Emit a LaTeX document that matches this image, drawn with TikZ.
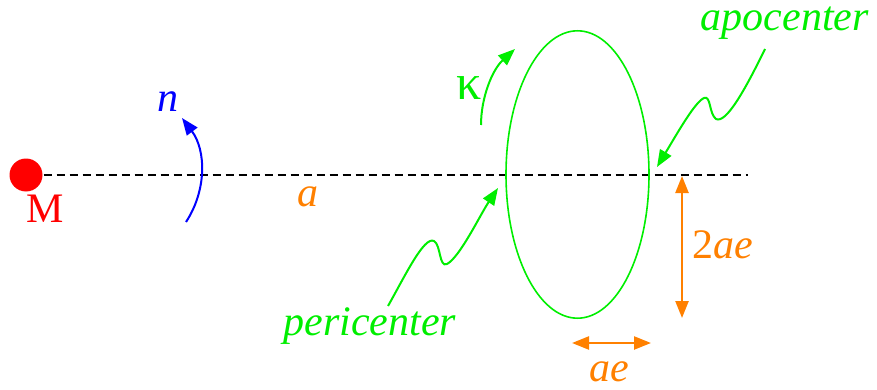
\documentclass[tikz,border=0pt]{standalone}
\usepackage{fontspec}
\setmainfont{Liberation Serif}
\usetikzlibrary{arrows.meta,positioning}
\definecolor{orbgreen}{RGB}{0,238,0}
\definecolor{orborange}{RGB}{255,128,0}
\begin{document}
\begin{tikzpicture}[x=0.5pt,y=-0.5pt,>={Triangle[length=8.5pt,width=6.5pt]},line width=1pt,
  every node/.style={font=\fontsize{21}{25}\selectfont,inner sep=1pt},
  guide/.style={orbgreen,->}, measure/.style={orborange,<->,line width=1.2pt}]
\useasboundingbox (0,0) rectangle (877,390);
\node[circle,fill=red,minimum size=16.5pt,inner sep=0pt] (M) at (26,175) {};
\node[red] (Mlab) at (45,209) {M};
\coordinate (E) at (748,175);
\draw[dash pattern=on 4pt off 2.5pt,line width=1.1pt] (M.east) -- (E);
\node[orborange] (alab) at (308,197) {\textit{a}};
\coordinate (n0) at (186,222);
\coordinate (n1) at (182,118);
\draw[blue,->] (n0) .. controls (207,190) and (206,150) .. (n1);
\node[blue] (nlab) at (168,102) {\textit{n}};
\draw[orbgreen,line width=0.8pt] (577.5,174.5) ellipse [x radius=71.5,y radius=143.7];
\coordinate (k0) at (481,125);
\coordinate (k1) at (515,49);
\draw[guide] (k0) .. controls (481,98) and (492,70) .. (k1);
\node[orbgreen,font=\fontsize{25}{28}\selectfont] (klab) at (469,88) {κ};
\coordinate (ap0) at (765,49);
\coordinate (ap1) at (657,167);
\draw[guide] (ap0) .. controls (745,90) and (726,124) .. (716,119)
  .. controls (709,114) and (711,95) .. (704,98)
  .. controls (695,102) and (678,132) .. (ap1);
\node[orbgreen] (aplab) at (785,23) {\textit{apocenter}};
\coordinate (pe0) at (388,306);
\coordinate (pe1) at (498,188);
\draw[guide] (pe0) .. controls (405,276) and (424,236) .. (434,241)
  .. controls (441,245) and (439,268) .. (447,264)
  .. controls (460,257) and (480,215) .. (pe1);
\node[orbgreen] (pelab) at (370,326) {\textit{pericenter}};
\coordinate (v0) at (682,176);
\coordinate (v1) at (682,318);
\draw[measure] (v0) -- (v1);
\node[orborange] (vlab) at (723,245) {2\textit{ae}};
\coordinate (h0) at (572,343);
\coordinate (h1) at (651,343);
\draw[measure] (h0) -- (h1);
\node[orborange] (hlab) at (609,372) {\textit{ae}};
\end{tikzpicture}
\end{document}
